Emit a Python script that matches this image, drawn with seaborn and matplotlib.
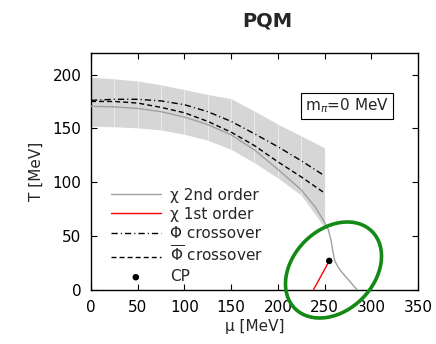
import numpy as np
import pandas as pd
import matplotlib
matplotlib.use("Agg")
import matplotlib.pyplot as plt
import seaborn as sns
from matplotlib.patches import Ellipse

# ---- data ----
mu_band = [0, 25, 50, 75, 100, 125, 150, 175, 200, 225, 250]
band_upper = [197.5, 196, 194, 190.5, 186, 181.5, 177.5, 166, 154, 143, 132]
band_lower = [152, 151.5, 150.5, 148.5, 144.5, 139, 130.5, 118, 104, 88, 58]

mu_phi = [0, 25, 50, 75, 100, 125, 150, 175, 200, 225, 250]
phi_cross = [176, 177, 177, 175.5, 172, 165.5, 156.5, 145, 133, 120, 106]
phibar_cross = [175, 175, 173.5, 169.5, 164.5, 156.5, 146.5, 134, 119, 105, 90]

mu_chi2 = [0, 25, 50, 75, 100, 125, 150, 175, 200, 225, 240, 250, 254, 257, 259, 261, 264, 268, 274, 280, 285]
t_chi2 = [170.5, 170, 168.5, 165.5, 160.5, 153.5, 144, 130, 112, 93, 77, 63, 56, 46, 35, 27, 22, 17, 11, 5, 0]

mu_chi1 = [238, 255]
t_chi1 = [0, 27]

cp_mu = [255]
cp_t = [27]

xticks = [0, 50, 100, 150, 200, 250, 300, 350]
yticks = [0, 50, 100, 150, 200]

# ---- style ----
sns.set_style("ticks")
plt.rcParams["font.family"] = ["DejaVu Sans"]
plt.rcParams["mathtext.fontset"] = "dejavusans"

fig = plt.figure(figsize=(4.36, 3.44), dpi=100)
ax = fig.add_axes([0.2087, 0.157, 0.750, 0.689])

# band
ax.fill_between(mu_band, band_lower, band_upper, color="#d6d6d6", lw=0, zorder=1)
ax.vlines(mu_band[1:-1], band_lower[1:-1], band_upper[1:-1], color="white",
          lw=0.6, alpha=0.6, zorder=1.5)

df2 = pd.DataFrame({"mu": mu_chi2, "T": t_chi2})
sns.lineplot(data=df2, x="mu", y="T", ax=ax, sort=False, estimator=None,
             color="#a0a0a0", lw=1.0, label="χ 2nd order", zorder=3)
df1 = pd.DataFrame({"mu": mu_chi1, "T": t_chi1})
sns.lineplot(data=df1, x="mu", y="T", ax=ax, sort=False, estimator=None,
             color="#ff0000", lw=1.0, label="χ 1st order", zorder=3)
dfp = pd.DataFrame({"mu": mu_phi, "T": phi_cross})
sns.lineplot(data=dfp, x="mu", y="T", ax=ax, sort=False, estimator=None,
             color="black", lw=1.0, linestyle=(0, (4.5, 2.2, 0.8, 2.2)),
             label="Φ crossover", zorder=3)
dfb = pd.DataFrame({"mu": mu_phi, "T": phibar_cross})
sns.lineplot(data=dfb, x="mu", y="T", ax=ax, sort=False, estimator=None,
             color="black", lw=1.0, linestyle=(0, (3.6, 2.2)),
             label=r"$\overline{\Phi}$ crossover", zorder=3)
sns.scatterplot(x=cp_mu, y=cp_t, ax=ax, color="black", s=22, edgecolor="none",
                label="CP", zorder=4)

ax.set_xlim(0, 350)
ax.set_ylim(0, 220)
ax.set_xticks(xticks)
ax.set_yticks(yticks)
ax.tick_params(direction="in", length=4, width=0.8, top=True, right=True,
               labelsize=11, pad=7, colors="black")
for s in ax.spines.values():
    s.set_visible(True)
    s.set_linewidth(1.0)
    s.set_color("black")

ax.set_xlabel("μ [MeV]", fontsize=11, labelpad=3)
ax.set_ylabel("T [MeV]", fontsize=11, labelpad=6)

fig.text(267 / 436, 1 - 21 / 344, "PQM", fontsize=14, fontweight="bold",
         ha="center", va="center")

ax.text(274, 171, r"m$_{\pi}$=0 MeV", fontsize=11, ha="center", va="center",
        bbox=dict(boxstyle="square,pad=0.25", fc="white", ec="black", lw=0.8))

leg = ax.legend(loc="upper left", bbox_to_anchor=(0.06, 0.432), frameon=False,
                fontsize=11, handlelength=3.3, handletextpad=0.6,
                labelspacing=0.27, borderpad=0, borderaxespad=0)

# hand-drawn green ellipse annotation (figure inches)
ell = Ellipse((3.335, 0.74), 1.09, 0.81, angle=45, transform=fig.dpi_scale_trans,
              fill=False, ec="#138a13", lw=2.6, clip_on=False, zorder=10)
fig.add_artist(ell)

fig.savefig("out.png", dpi=100)
